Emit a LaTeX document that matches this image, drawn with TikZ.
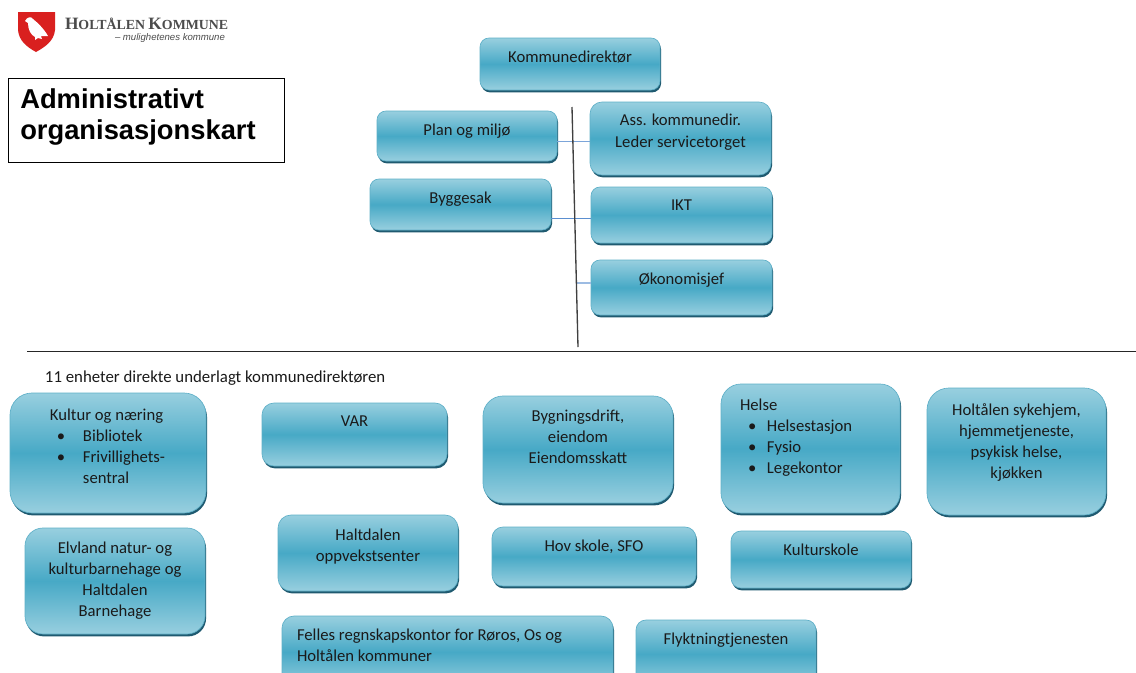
\documentclass[tikz,border=0pt]{standalone}
\usepackage{fontspec}
\setmainfont{Carlito}
\newfontfamily\logofont{Liberation Serif}
\newfontfamily\arialfont{Liberation Sans}
\usetikzlibrary{shadows}
\definecolor{boxtop}{HTML}{98CFDF}
\definecolor{boxmid}{HTML}{47A9C6}
\definecolor{boxedge}{HTML}{5FB0C8}
\definecolor{boxshadow}{HTML}{1F5A70}
\definecolor{linkblue}{HTML}{5B8FD0}
\definecolor{textdark}{HTML}{1A1A1A}
\definecolor{shieldred}{HTML}{D9201F}
\pgfdeclareverticalshading{boxshade}{100bp}{
  color(0bp)=(boxtop); color(25bp)=(boxtop); color(50bp)=(boxmid);
  color(75bp)=(boxtop); color(100bp)=(boxtop)}
\newlength\px \setlength\px{0.75pt}
\tikzset{
  x=0.75pt,y=-0.75pt,
  ubox/.style={shading=boxshade,draw=boxedge,line width=.5pt,inner sep=0pt,outer sep=0pt,anchor=north west,
    general shadow={fill=boxshadow,shadow xshift=.8pt,shadow yshift=-1.8pt},
    font=\fontsize{12.5}{15.75}\selectfont,text=textdark},
  spine/.style={draw=black!75,line width=1pt},
  link/.style={draw=linkblue,line width=.7pt},
  plain/.style={inner sep=0pt,outer sep=0pt,anchor=west}
}
% name, x1, y1, x2, y2, radius, top offset, content
\newcommand{\ubox}[8]{%
  \pgfmathsetmacro{\bw}{#4-#2-1}\pgfmathsetmacro{\bh}{#5-#3-2}%
  \node[ubox,rounded corners=#6*\px,minimum width=\bw*\px,minimum height=\bh*\px] (#1) at (#2,#3)
    {\parbox[c][\bh\px][t]{\bw\px}{\vspace*{\dimexpr#7\px+6\px\relax}\centering #8\par}};}
\newcommand{\lft}[2]{{\raggedright\hspace*{#1\px}#2\par}}
\newcommand{\bul}[3]{{\raggedright\hspace*{#1\px}\makebox[0pt][l]{•}\hspace*{\dimexpr#2\px-#1\px\relax}#3\par}}
\begin{document}
\begin{tikzpicture}
\clip (0,0) rectangle (1136,672);
\fill[white] (0,0) rectangle (1136,672);
% logo
\fill[shieldred] (18,12) -- (55,12) -- (55,30) .. controls (54,41) and (45,47) .. (36,52) .. controls (27,47) and (19,41) .. (18,30) -- cycle;
\fill[white] (25,21) .. controls (27,17) and (31,16) .. (33,19) .. controls (38,23) and (44,29) .. (48,36) .. controls (45,36) and (43,36) .. (41,36) -- (42,39) -- (38,38) -- (35,40) -- (35,37) .. controls (31,35) and (28,30) .. (28,23) -- cycle;
\node[plain,text=black!70] (logoname) at (65,24) {\logofont\bfseries\fontsize{13}{14}\selectfont H\fontsize{10.4}{14}\selectfont OLTÅLEN \fontsize{13}{14}\selectfont K\fontsize{10.4}{14}\selectfont OMMUNE};
\node[plain,text=black!70] (logotag) at (115,38) {\arialfont\itshape\fontsize{7.2}{8}\selectfont – mulighetenes kommune};
% title
\node[draw=black,line width=.7pt,minimum width=276*\px,minimum height=84*\px,inner sep=0pt,anchor=north west] (titlebox) at (8,78) {};
\node[inner sep=0pt,anchor=north west,align=left,font=\arialfont\bfseries\fontsize{20.5}{23.5}\selectfont] (title) at (20,88) {Administrativt\\organisasjonskart};
% top boxes
\ubox{dir}{480}{38}{661}{92}{9}{7}{Kommunedirektør}
\ubox{plan}{377}{111}{558}{163}{9}{7}{Plan og miljø}
\ubox{ass}{590}{102}{772}{177}{12}{6}{Ass. kommunedir.\\[.6pt] Leder servicetorget}
\ubox{bygg}{370}{179}{552}{232}{9}{7}{Byggesak}
\ubox{ikt}{591}{187}{773}{245}{9}{7}{IKT}
\ubox{oko}{591}{260}{773}{317}{9}{7}{Økonomisjef}
% connectors
\coordinate (spinetop) at (572,107);
\coordinate (spinebot) at (578,347);
\coordinate (spineoko) at (577,283);
\draw[link,draw=linkblue!80] (plan.east |- 0,141) -- (ass.west |- 0,141);
\draw[link] (bygg.east |- 0,218) -- (ikt.west |- 0,218);
\draw[link,draw=linkblue!60,line width=1pt] (spineoko) -- (oko.west |- spineoko);
\draw[spine] (spinetop) -- (spinebot);
\coordinate (ruleL) at (27,351);
\coordinate (ruleR) at (1136,351);
\draw[draw=black!85,line width=.7pt] (ruleL) -- (ruleR);
\node[plain,font=\fontsize{12.6}{14}\selectfont,text=textdark] (sub) at (45,378) {11 enheter direkte underlagt kommunedirektøren};
% units
\ubox{kultur}{10}{393}{207}{515}{22}{10}{\lft{40}{Kultur og næring}\bul{47}{73}{Bibliotek}\bul{47}{73}{Frivillighets-}\lft{73}{sentral}}
\ubox{var}{262}{403}{448}{468}{12}{7}{VAR}
\ubox{bygn}{483}{396}{674}{505}{20}{8}{Bygningsdrift,\\eiendom\\Eiendomsskatt}
\ubox{helse}{721}{384}{901}{515}{20}{9}{\lft{19}{Helse}\bul{27}{46}{Helsestasjon}\bul{27}{46}{Fysio}\bul{27}{46}{Legekontor}}
\ubox{sykehjem}{927}{388}{1107}{517}{22}{10}{Holtålen sykehjem,\\hjemmetjeneste,\\psykisk helse,\\kjøkken}
\ubox{elv}{25}{528}{206}{636}{18}{8}{Elvland natur- og\\kulturbarnehage og\\Haltdalen\\Barnehage}
\ubox{halt}{278}{515}{459}{593}{13}{8}{Haltdalen\\oppvekstsenter}
\ubox{hov}{492}{527}{697}{588}{11}{7}{Hov skole, SFO}
\ubox{kskole}{731}{531}{912}{590}{10}{7}{Kulturskole}
\ubox{felles}{282}{616}{614}{690}{12}{7}{\lft{15}{Felles regnskapskontor for Røros, Os og}\lft{15}{Holtålen kommuner}}
\ubox{flykt}{636}{620}{817}{690}{10}{7}{Flyktningtjenesten}
\end{tikzpicture}
\end{document}
